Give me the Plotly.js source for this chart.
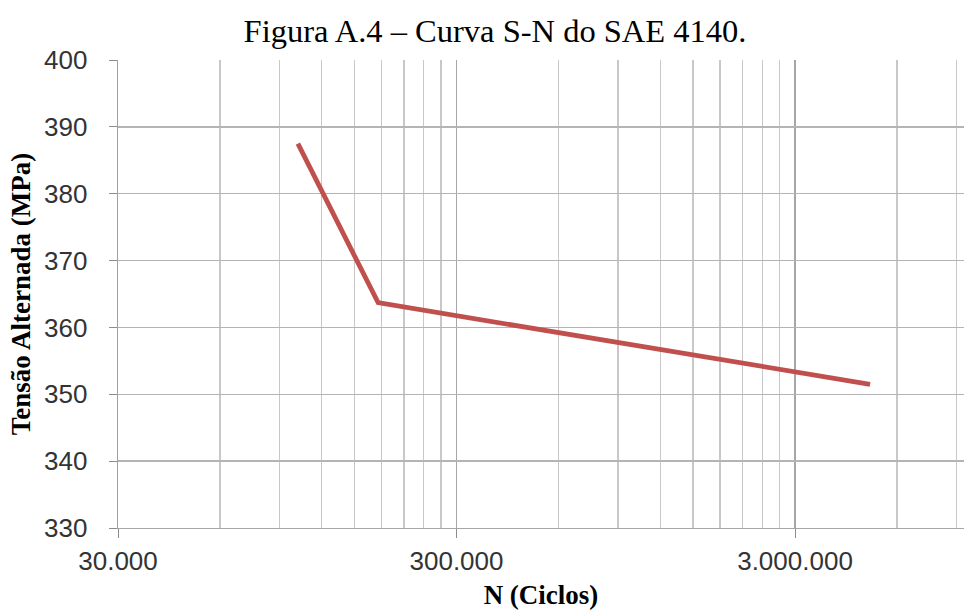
<!DOCTYPE html>
<html>
<head>
<meta charset="utf-8">
<script src="https://cdn.plot.ly/plotly-3.0.1.min.js"></script>
<style>html,body{margin:0;padding:0;background:#fff;}#chart{width:964px;height:612px;}</style>
</head>
<body>
<div id="chart"></div>
<script>
// Data
var ciclos = [102000, 176000, 5000000];
var tensao = [387.5, 363.7, 351.5];
var xMajorVals = [30000, 300000, 3000000];
var xMajorText = ["30.000", "300.000", "3.000.000"];
var xMinorVals = [60000, 90000, 120000, 150000, 180000, 210000, 240000, 270000,
                  600000, 900000, 1200000, 1500000, 1800000, 2100000, 2400000, 2700000,
                  6000000, 9000000];
var yTickVals = [330, 340, 350, 360, 370, 380, 390, 400];

var trace = {
  x: ciclos, y: tensao, type: 'scatter', mode: 'lines',
  line: {color: '#c0504d', width: 4.8},
  hoverinfo: 'skip'
};

var layout = {
  width: 964, height: 612,
  margin: {l: 118, r: 0, t: 60, b: 84},
  paper_bgcolor: '#fff', plot_bgcolor: '#fff',
  showlegend: false,
  title: {
    text: 'Figura A.4 – Curva S-N do SAE 4140.',
    font: {family: 'Liberation Serif', size: 32.5, color: '#000'},
    x: 495/964, xanchor: 'center', xref: 'container',
    y: 1 - 31/612, yanchor: 'middle', yref: 'container'
  },
  xaxis: {
    type: 'log',
    range: [Math.log10(30000), Math.log10(30000) + 846/338.5],
    tickmode: 'array', tickvals: xMajorVals, ticktext: xMajorText,
    ticks: 'outside', ticklen: 9, tickcolor: '#8c8c8c', tickwidth: 1,
    showgrid: true, gridcolor: '#a6a6a6', gridwidth: 1.3,
    showline: true, linecolor: '#a6a6a6', linewidth: 1.3,
    zeroline: false,
    tickfont: {family: 'Liberation Sans', size: 26, color: '#333'},
    ticklabelstandoff: 0,
    minor: {tickmode: 'array', tickvals: xMinorVals, ticks: '', showgrid: true, gridcolor: '#c8c8c8', gridwidth: 1.2},
    title: {text: '<b>N (Ciclos)</b>', font: {family: 'Liberation Serif', size: 27, color: '#000'}, standoff: 10}
  },
  yaxis: {
    range: [330, 400],
    tickmode: 'array', tickvals: yTickVals,
    ticks: 'outside', ticklen: 8, tickcolor: '#8c8c8c', tickwidth: 1,
    showgrid: true, gridcolor: '#b4b4b4', gridwidth: 1.3,
    showline: true, linecolor: '#a0a0a0', linewidth: 1.3, zeroline: false,
    tickfont: {family: 'Liberation Sans', size: 26, color: '#333'},
    ticklabelstandoff: 16,
    title: {text: '<b>Tensão Alternada (MPa)</b>', font: {family: 'Liberation Serif', size: 27, color: '#000'}, standoff: 5}
  }
};

Plotly.newPlot('chart', [trace], layout, {displayModeBar: false, staticPlot: true});
</script>
</body>
</html>
